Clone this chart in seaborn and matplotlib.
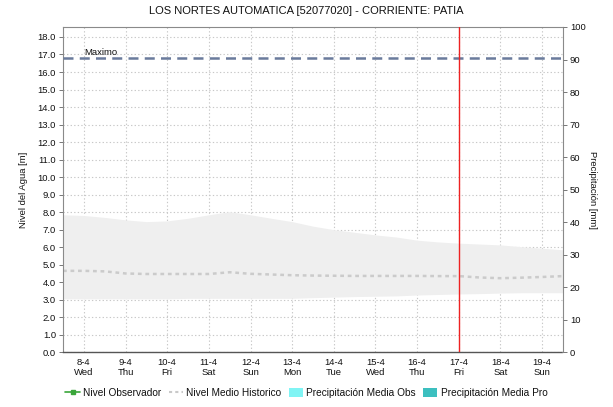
import matplotlib
matplotlib.use("Agg")
import matplotlib.pyplot as plt
from matplotlib.lines import Line2D
from matplotlib.patches import Patch
import numpy as np
import pandas as pd
import seaborn as sns

# --- data -------------------------------------------------------------
title = "LOS NORTES AUTOMATICA [52077020] - CORRIENTE: PATIA"

# time axis in days of April (half-day steps)
day = [7.5, 8.0, 8.5, 9.0, 9.5, 10.0, 10.5, 11.0, 11.5, 12.0, 12.5, 13.0,
       13.5, 14.0, 14.5, 15.0, 15.5, 16.0, 16.5, 17.0, 17.5, 18.0, 18.5,
       19.0, 19.5]

# historical envelope of water level [m]
nivel_max_hist = [7.85, 7.81, 7.70, 7.56, 7.46, 7.50, 7.65, 7.85, 8.03, 7.85,
                  7.65, 7.46, 7.20, 7.00, 6.85, 6.70, 6.58, 6.40, 6.30, 6.23,
                  6.18, 6.13, 6.03, 5.94, 5.85]
nivel_min_hist = [3.05, 3.05, 3.05, 3.05, 3.05, 3.05, 3.08, 3.08, 3.08, 3.08,
                  3.08, 3.08, 3.12, 3.15, 3.18, 3.20, 3.22, 3.27, 3.30, 3.33,
                  3.35, 3.38, 3.40, 3.40, 3.40]
# historical mean water level [m]
nivel_medio = [4.65, 4.65, 4.62, 4.50, 4.47, 4.47, 4.47, 4.47, 4.57, 4.48,
               4.44, 4.40, 4.38, 4.37, 4.36, 4.36, 4.36, 4.36, 4.35, 4.35,
               4.27, 4.23, 4.26, 4.30, 4.35]

nivel_maximo = 16.8          # alert level "Maximo" [m]
dia_actual = 17.0            # current day marker

tick_days = [8, 9, 10, 11, 12, 13, 14, 15, 16, 17, 18, 19]
tick_labels = ["8-4\nWed", "9-4\nThu", "10-4\nFri", "11-4\nSat", "12-4\nSun",
               "13-4\nMon", "14-4\nTue", "15-4\nWed", "16-4\nThu", "17-4\nFri",
               "18-4\nSat", "19-4\nSun"]

# --- style ------------------------------------------------------------
sns.set_style("white")
plt.rcParams["font.family"] = ["Liberation Sans", "DejaVu Sans"]
plt.rcParams["font.size"] = 6.5
plt.rcParams["text.color"] = "#111111"

df = pd.DataFrame({"day": day, "medio": nivel_medio})

fig = plt.figure(figsize=(6.13, 4.07), dpi=100)
ax = fig.add_axes([0.1028, 0.1344, 0.8156, 0.7993])

grid_kw = dict(color="#c8c8c8", lw=0.8, ls=(0, (1.2, 2.0)), zorder=0)
for v in range(0, 19):
    ax.axhline(v, **grid_kw)
for d in tick_days:
    ax.axvline(d, **grid_kw)

ax.fill_between(day, nivel_min_hist, nivel_max_hist, color="#efefef",
                lw=0, zorder=1)
sns.lineplot(data=df, x="day", y="medio", ax=ax, color="#cbcbcb", lw=1.8,
             linestyle=(0, (1.5, 1.5)), zorder=2)

ax.axhline(nivel_maximo, color="#6a7b9c", lw=1.8, ls=(0, (4, 2.5)), zorder=3)
ax.text(8.0, nivel_maximo + 0.08, "Maximo", fontsize=6.8, ha="left",
        va="bottom", color="#111111", zorder=4)
ax.axvline(dia_actual, color="#ee2222", lw=1.0, zorder=4)

ax.set_xlim(7.5, 19.5)
ax.set_ylim(0, 18.57)
ax.set_xticks(tick_days)
ax.set_xticklabels(tick_labels, fontsize=6.8, linespacing=1.2,
                   color="#111111")
ax.set_yticks(np.arange(0, 19, 1.0))
ax.set_yticklabels([f"{v:.1f}" for v in np.arange(0, 19, 1.0)], fontsize=6.8,
                   color="#111111")
ax.set_xlabel("")
ax.set_ylabel("Nivel del Agua [m]", fontsize=6.8, labelpad=7,
              color="#111111")
ax.tick_params(axis="y", direction="out", length=3, width=0.7,
               color="#777777", pad=2)
ax.tick_params(axis="x", length=0, pad=4)

for side in ["left", "top", "right"]:
    ax.spines[side].set_color("#8a8a8a")
    ax.spines[side].set_linewidth(0.8)
ax.spines["bottom"].set_color("#555555")
ax.spines["bottom"].set_linestyle((0, (1, 1)))
ax.spines["bottom"].set_linewidth(1.0)

ax2 = ax.twinx()
ax2.set_ylim(0, 100)
ax2.set_yticks(np.arange(0, 101, 10))
ax2.set_yticklabels([str(v) for v in range(0, 101, 10)], fontsize=6.8,
                    color="#111111")
ax2.tick_params(axis="y", direction="out", length=3, width=0.7,
                color="#777777", pad=2)
ax2.set_ylabel("Precipitación [mm]", fontsize=6.8, rotation=270,
               labelpad=8, color="#111111")
for side in ["left", "top", "right", "bottom"]:
    ax2.spines[side].set_visible(False)
ax2.grid(False)

fig.suptitle(title, fontsize=8, y=0.985, x=0.5, color="#111111")

handles = [
    Line2D([], [], color="#3aa63a", lw=1.2, marker="s", markersize=2.5),
    Line2D([], [], color="#c9c9c9", lw=1.5, ls=(0, (1.5, 1.5))),
    Patch(facecolor="#80f4f4", edgecolor="none"),
    Patch(facecolor="#3cbfbf", edgecolor="none"),
]
labels = ["Nivel Observador", "Nivel Medio Historico",
          "Precipitación Media Obs", "Precipitación Media Pro"]
fig.legend(handles, labels, loc="center", bbox_to_anchor=(0.5, 0.035),
           ncol=4, frameon=False, fontsize=7.3, handlelength=1.4,
           handleheight=1.1, handletextpad=0.35, columnspacing=0.7)

fig.savefig("out.png", dpi=100, facecolor="white")
